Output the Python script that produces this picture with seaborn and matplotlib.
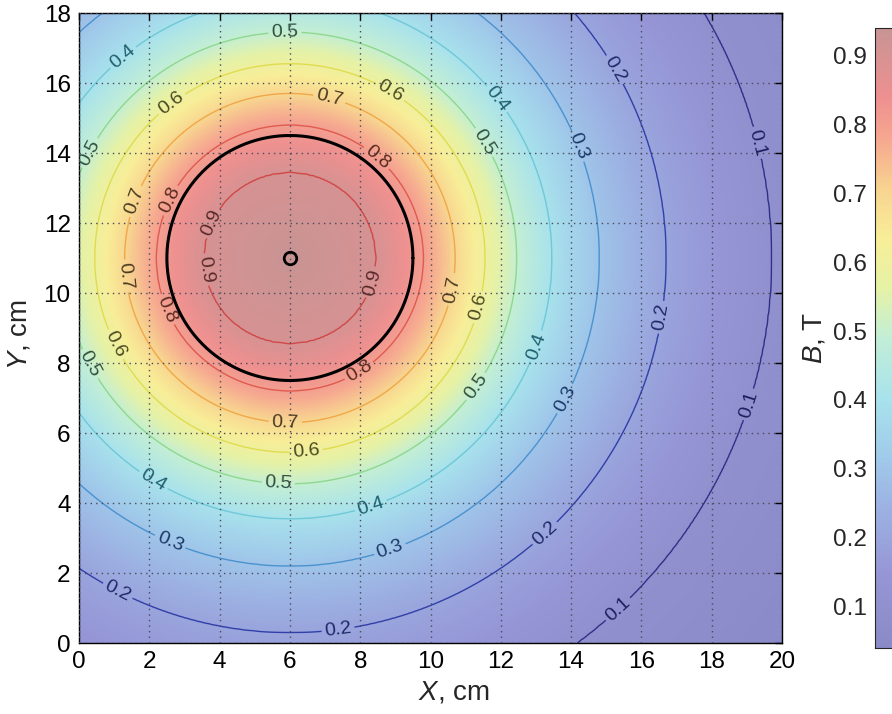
import numpy as np
import matplotlib
matplotlib.use("Agg")
import matplotlib.pyplot as plt
import seaborn as sns
from matplotlib.colors import LinearSegmentedColormap, Normalize

# ---------------- data ----------------
# radial profile of the field magnitude around the magnet centre
radius_cm = [0.0, 2.45, 3.8, 4.7, 5.55, 6.45, 7.45, 8.8, 10.7, 13.7, 18.5]
field_T = [0.935, 0.9, 0.8, 0.7, 0.6, 0.5, 0.4, 0.3, 0.2, 0.1, 0.04]
contour_levels = [0.1, 0.2, 0.3, 0.4, 0.5, 0.6, 0.7, 0.8, 0.9]
magnet_center = (6.0, 11.0)
magnet_radius = 3.5
x_ticks = [0, 2, 4, 6, 8, 10, 12, 14, 16, 18, 20]
y_ticks = [0, 2, 4, 6, 8, 10, 12, 14, 16, 18]
cbar_ticks = [0.1, 0.2, 0.3, 0.4, 0.5, 0.6, 0.7, 0.8, 0.9]
field_min, field_max = 0.04, 0.94

# ---------------- style / layout ----------------
cmap_stops = [
    (0.00, "#8a8ac8"), (0.12, "#9696d6"), (0.22, "#9cb0e2"), (0.30, "#a0c8ea"),
    (0.40, "#a8e2ec"), (0.50, "#c2eed6"), (0.58, "#e6f2a6"), (0.66, "#f8ee98"),
    (0.74, "#f8d490"), (0.82, "#f6a890"), (0.89, "#ee9090"), (1.00, "#c89494"),
]
line_colors = ["#303088", "#3040a8", "#4a92d0", "#70c8d8", "#8ed890",
               "#e0dc50", "#f0a848", "#e05a50", "#d04848"]
text_colors = ["#202060", "#202a6a", "#1a3a6a", "#1f5f6f", "#2f4f3f",
               "#4a4a20", "#4a3a20", "#5a2a20", "#5a2a2a"]
label_spots = [
    (15.6, 0.66), (18.9, 14.2), (18.9, 6.86),
    (14.96, 16.2), (16.6, 9.3), (13.35, 3.03), (7.4, 0.2), (1.0, 1.3),
    (13.97, 14.1), (13.9, 6.94), (8.9, 2.5), (2.5, 2.7),
    (1.45, 16.5), (11.7, 15.4), (13.06, 8.46), (8.36, 3.74), (2.02, 4.51),
    (5.86, 17.3), (0.5, 13.9), (11.35, 14.2), (11.35, 7.29), (5.66, 4.37), (0.25, 7.94),
    (2.79, 15.2), (8.76, 15.6), (11.35, 9.6), (6.49, 5.23), (0.9, 8.46),
    (7.06, 15.3), (1.74, 12.57), (1.1, 10.46), (10.6, 10.1), (5.86, 6.09),
    (8.36, 13.74), (2.79, 12.57), (2.3, 9.43), (8.08, 7.6),
    (4.0, 11.9), (3.53, 10.66), (8.36, 10.29),
]

sns.set_theme(style="white")
plt.rcParams["font.family"] = ["Liberation Sans", "DejaVu Sans"]
plt.rcParams["mathtext.fontset"] = "custom"
plt.rcParams["mathtext.it"] = "Liberation Sans:italic"
plt.rcParams["mathtext.rm"] = "Liberation Sans"

# field grid built from the read radial profile
xs = np.linspace(0, 20, 401)
ys = np.linspace(0, 18, 361)
X, Y = np.meshgrid(xs, ys)
R = np.hypot(X - magnet_center[0], Y - magnet_center[1])
B = np.interp(R, radius_cm, field_T)

pastel_jet = LinearSegmentedColormap.from_list("pastel_jet", cmap_stops)
norm = Normalize(field_min, field_max)

fig = plt.figure(figsize=(8.92, 7.14), dpi=100)
ax = fig.add_axes([79 / 892, 71 / 714, 703 / 892, 630 / 714])
im = ax.imshow(B, extent=[0, 20, 0, 18], origin="lower", cmap=pastel_jet, norm=norm,
               aspect="auto", interpolation="bilinear", zorder=0)

cs = ax.contour(X, Y, B, levels=contour_levels, colors=line_colors, linewidths=1.0, zorder=2)
ax.clabel(cs, contour_levels, inline=True, fmt="%.1f", fontsize=14,
          colors=text_colors, manual=label_spots, inline_spacing=3)

theta = np.linspace(0, 2 * np.pi, 400)
ax.plot(magnet_center[0] + magnet_radius * np.cos(theta),
        magnet_center[1] + magnet_radius * np.sin(theta),
        color="black", lw=2.2, zorder=4)
ax.plot([magnet_center[0]], [magnet_center[1]], marker="o", ms=9, mfc="none",
        mec="black", mew=2, zorder=5)

ax.set_xlim(0, 20)
ax.set_ylim(0, 18)
ax.set_xticks(x_ticks)
ax.set_yticks(y_ticks)
ax.grid(True, linestyle=(0, (1, 3)), color="#4a4a5a", linewidth=1.0, zorder=3)
ax.set_axisbelow(False)
ax.tick_params(direction="in", length=5, width=1, top=True, right=True,
               labelsize=17.5, colors="black", pad=6)
for sp in ax.spines.values():
    sp.set_color("black")
    sp.set_linewidth(1.0)
ax.set_xlabel(r"$\it{X}$, cm", fontsize=20, labelpad=4)
ax.set_ylabel(r"$\it{Y}$, cm", fontsize=20, labelpad=4)
ax.xaxis.set_label_coords(0.533, -0.058)
ax.yaxis.set_label_coords(-0.066, 0.49)

cax = fig.add_axes([875 / 892, 66 / 714, 40 / 892, 620 / 714])
cb = fig.colorbar(im, cax=cax, ticks=cbar_ticks)
cax.yaxis.set_ticks_position("left")
cax.yaxis.set_label_position("left")
cax.tick_params(direction="in", length=4, labelsize=17.5, pad=6)
cax.set_yticklabels([f"{v:.1f}" for v in cbar_ticks])
cax.grid(True, axis="y", linestyle=(0, (1, 3)), color="#4a4a5a", linewidth=1.0)
cb.outline.set_linewidth(0.8)
cb.set_label(r"$\it{B}$, T", fontsize=20, labelpad=4)

fig.savefig("out.png", dpi=100)
